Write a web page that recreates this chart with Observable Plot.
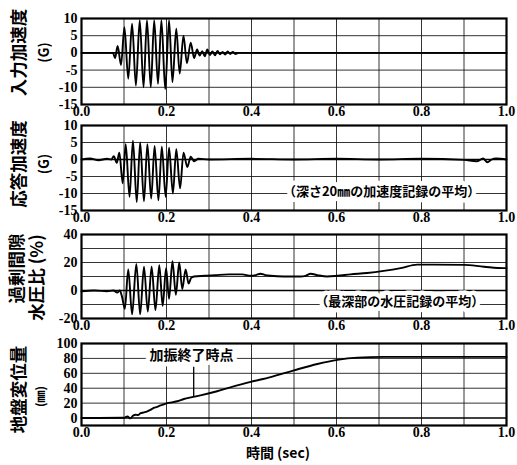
<!DOCTYPE html>
<html>
<head>
<meta charset="utf-8">
<script src="https://cdn.jsdelivr.net/npm/d3@7"></script>
<script src="https://cdn.jsdelivr.net/npm/@observablehq/plot@0.6"></script>
<style>
  html, body { margin: 0; padding: 0; background: #fff; }
  #chart { position: relative; width: 517px; height: 465px; overflow: hidden; }
  #chart svg { position: absolute; left: 0; }
</style>
</head>
<body>
<div id="chart"></div>
<script>
// Shared time axis (seconds)
const xTicks = [0, 0.2, 0.4, 0.6, 0.8, 1.0];
const xGrid = [0.1, 0.2, 0.3, 0.4, 0.5, 0.6, 0.7, 0.8, 0.9];

// Input acceleration (G)
const inputTime = [0, 0.06, 0.074, 0.079, 0.085, 0.093,
  0.101, 0.110, 0.119, 0.128, 0.137, 0.146, 0.154, 0.163, 0.171, 0.180,
  0.188, 0.197, 0.206, 0.214, 0.223, 0.231, 0.240, 0.248, 0.257, 0.265,
  0.272, 0.278, 0.284, 0.290, 0.296, 0.302, 0.308, 0.314, 0.320, 0.326,
  0.332, 0.338, 0.344, 0.350, 0.356, 0.362, 0.370, 1.0];
const inputAccel = [0, 0, 0, -1.5, 2, -3.5,
  7.5, -7.5, 8.5, -9.5, 9.5, -10, 9.5, -10, 9.5, -9,
  9.5, -10.5, 9.5, -8.5, 7, -6, 5, -3, 3, -1.5,
  1, -0.8, 0.5, -1, 1, -0.6, 0.4, -0.7, 0.6, -0.4,
  0.3, -0.5, 0.4, -0.3, 0.3, -0.3, 0, 0];

// Response acceleration at 20 mm depth (G)
const responseTime = [0, 0.02, 0.04, 0.06, 0.070, 0.076, 0.083, 0.089,
  0.097, 0.104, 0.113, 0.121, 0.130, 0.138, 0.147, 0.155, 0.164, 0.172,
  0.181, 0.189, 0.198, 0.206, 0.215, 0.223, 0.232, 0.240, 0.249, 0.257, 0.265,
  0.275, 0.30, 0.40, 0.50, 0.60, 0.70, 0.80, 0.90, 0.93, 0.945, 0.955, 0.965, 0.975, 1.0];
const responseAccel = [0, 0.3, -0.2, 0.2, 0, 1, -1, 2,
  -7, 4.5, -11, 5.5, -12.5, 5, -12.3, 4.5, -11.5, 4,
  -12, 3.8, -11, 3.5, -10, 3, -8.5, 2, -2.2, 0.8, -0.5,
  0.2, 0, 0.2, 0, 0.2, 0, 0.2, -0.1, -0.5, 0.3, -0.8, 0, 0.3, 0];

// Excess pore water pressure ratio at the deepest level (%)
const poreTime = [0, 0.03, 0.06, 0.075, 0.084, 0.090, 0.095,
  0.102, 0.110, 0.119, 0.129, 0.138, 0.147, 0.156, 0.165, 0.174, 0.183,
  0.191, 0.199, 0.206, 0.214, 0.222, 0.230, 0.237, 0.245, 0.252, 0.258, 0.265,
  0.290, 0.315, 0.347, 0.378, 0.398, 0.410, 0.421, 0.433, 0.445, 0.476,
  0.515, 0.527, 0.539, 0.555, 0.578, 0.602, 0.633, 0.672, 0.711, 0.751,
  0.790, 0.829, 0.900, 0.947, 0.994, 1.0];
const poreRatio = [-0.5, 0, -0.5, 0, -1.5, 0, -4,
  -13, 15, -17, 19, -17, 17, -15, 17, -14, 18,
  -11, 16, -6, 21, -3, 20, 1, 15, 5, 9, 10,
  10.5, 11, 11.5, 11.5, 10.5, 11, 12, 11, 10.5, 10,
  10, 10.5, 12, 11, 10, 10.5, 11.5, 12.5, 14, 16,
  18.5, 18.5, 18.3, 17, 16, 16];

// Ground displacement (mm)
const dispTime = [0, 0.100, 0.108, 0.115, 0.121, 0.127, 0.133, 0.139, 0.147, 0.155,
  0.162, 0.170, 0.178, 0.186, 0.194, 0.202, 0.213, 0.225, 0.241, 0.260,
  0.280, 0.319, 0.358, 0.398, 0.445, 0.500, 0.555, 0.602, 0.649, 0.711,
  0.800, 0.900, 1.0];
const dispMm = [0, 0.3, 2, -0.5, 3, 4.5, 4, 6.5, 7.5, 9,
  11, 13.5, 15, 17, 18.5, 20, 21, 22.5, 25.5, 28,
  30.5, 36, 42.5, 48.5, 55, 64, 72.5, 78, 81, 82,
  82, 82, 82];

// End of shaking
const shakingEnd = [{t: 0.264, from: 28, to: 68}];

// Text
const titles = {
  input: ["入力加速度", "(G)"],
  response: ["応答加速度", "(G)"],
  pore: ["過剰間隙", "水圧比 (%)"],
  disp: ["地盤変位量", "(㎜)"]
};
const responseNote = "（深さ20㎜の加速度記録の平均）";
const poreNote = "（最深部の水圧記録の平均）";
const shakingEndNote = "加振終了時点";
const xTitle = "時間 (sec)";

const serif = "'Liberation Serif', 'DejaVu Serif', serif";
const jp = "'Noto Sans CJK JP', sans-serif";

const zip = (ts, vs) => ts.map((t, i) => ({t, v: vs[i]}));

function axisTitle(label, {dx, dy, size}) {
  return Plot.text([label], {
    text: d => d, frameAnchor: "left", dx, dy, rotate: -90,
    textAnchor: "middle", fontFamily: jp, fontSize: size, fontWeight: "bold", fill: "black"
  });
}

function note(label, x, y, size) {
  return [
    Plot.text([label], {text: d => d, x: () => x, y: () => y, fontFamily: jp, fontSize: size,
      fontWeight: "bold", fill: "white", stroke: "white", strokeWidth: 9, strokeLinejoin: "round"}),
    Plot.text([label], {text: d => d, x: () => x, y: () => y, fontFamily: jp, fontSize: size,
      fontWeight: "bold", fill: "black"})
  ];
}

function panel({top, plotHeight, marginBottom = 16, yDomain, yTicks, yGrid, zero, data, extra = []}) {
  const marginTop = 12;
  const svg = Plot.plot({
    width: 517,
    height: marginTop + plotHeight + marginBottom,
    marginLeft: 81, marginRight: 11, marginTop, marginBottom,
    style: {background: "transparent", overflow: "visible", fontFamily: serif,
      fontSize: "14px", fontWeight: "bold", color: "black"},
    x: {domain: [0, 1], ticks: xTicks, tickFormat: d => d.toFixed(1), tickSize: 0, tickPadding: 2, label: null},
    y: {domain: yDomain, ticks: yTicks, tickFormat: d => String(d), tickSize: 0, tickPadding: 4, label: null},
    marks: [
      Plot.ruleX(xGrid, {stroke: "#111", strokeWidth: 1, strokeOpacity: 0.85}),
      Plot.ruleY(yGrid, {stroke: "#111", strokeWidth: 1, strokeOpacity: 0.85}),
      Plot.ruleY([zero], {stroke: "#000", strokeWidth: 1.6}),
      Plot.line(data, {x: "t", y: "v", curve: "monotone-x", stroke: "black", strokeWidth: 1.9}),
      ...extra,
      Plot.frame({stroke: "black", strokeWidth: 2.2})
    ]
  });
  svg.style.top = top + "px";
  return svg;
}

const chart = document.getElementById("chart");

chart.appendChild(panel({
  top: 6, plotHeight: 86,
  yDomain: [-15, 10], yTicks: [-15, -10, -5, 0, 5, 10], yGrid: [-10, -5, 5], zero: 0,
  data: zip(inputTime, inputAccel),
  extra: [
    axisTitle(titles.input[0], {dx: -62, dy: -9, size: 17.5}),
    axisTitle(titles.input[1], {dx: -37, dy: -9, size: 14})
  ]
}));

chart.appendChild(panel({
  top: 113, plotHeight: 85,
  yDomain: [-15, 10], yTicks: [-15, -10, -5, 0, 5, 10], yGrid: [-10, -5, 5], zero: 0,
  data: zip(responseTime, responseAccel),
  extra: [
    ...note(responseNote, 0.706, -9.4, 13),
    axisTitle(titles.response[0], {dx: -62, dy: -4, size: 17.5}),
    axisTitle(titles.response[1], {dx: -37, dy: -4, size: 14})
  ]
}));

chart.appendChild(panel({
  top: 222, plotHeight: 84,
  yDomain: [-20, 40], yTicks: [-20, 0, 20, 40], yGrid: [-10, 10, 20, 30], zero: 0,
  data: zip(poreTime, poreRatio),
  extra: [
    ...note(poreNote, 0.749, -8.4, 13),
    axisTitle(titles.pore[0], {dx: -64, dy: -8, size: 17.5}),
    axisTitle(titles.pore[1], {dx: -44, dy: 1, size: 17.5})
  ]
}));

chart.appendChild(panel({
  top: 331, plotHeight: 82, marginBottom: 40,
  yDomain: [-10, 100], yTicks: [0, 20, 40, 60, 80, 100], yGrid: [20, 40, 60, 80], zero: 0,
  data: zip(dispTime, dispMm),
  extra: [
    Plot.ruleX(shakingEnd, {x: "t", y1: "from", y2: "to", stroke: "black", strokeWidth: 1.3}),
    ...note(shakingEndNote, 0.259, 84, 14),
    axisTitle(titles.disp[0], {dx: -62, dy: 5, size: 17.5}),
    axisTitle(titles.disp[1], {dx: -40, dy: 12, size: 12}),
    Plot.text([xTitle], {text: d => d, frameAnchor: "bottom", dx: -16, dy: 32,
      fontFamily: jp, fontSize: 14, fontWeight: "bold", fill: "black"})
  ]
}));
</script>
</body>
</html>
